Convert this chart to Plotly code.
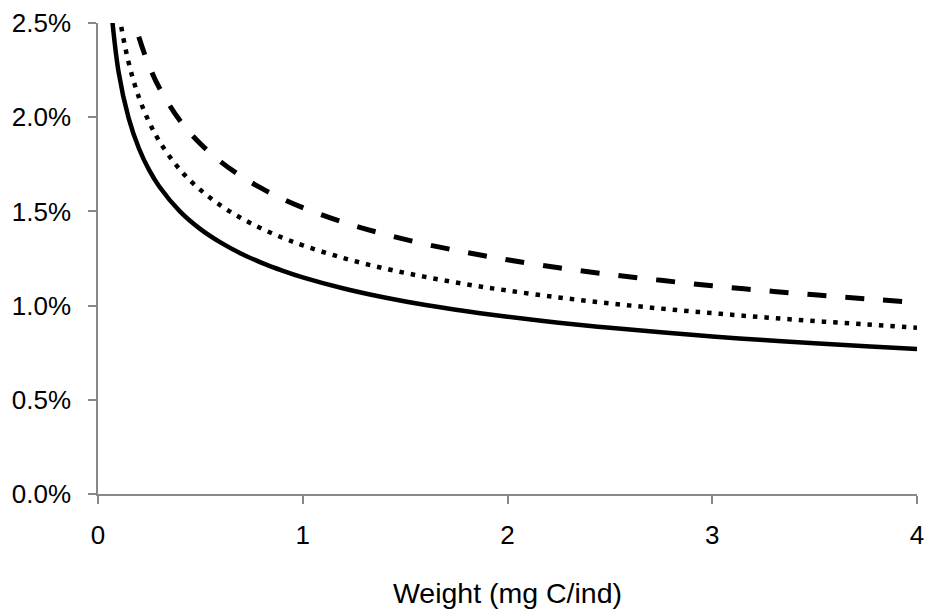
import plotly.graph_objects as go

weight = [0.05, 0.1, 0.15, 0.2, 0.25, 0.3, 0.4, 0.5, 0.6, 0.7, 0.8, 0.9, 1.0,
          1.2, 1.4, 1.6, 1.8, 2.0, 2.25, 2.5, 2.75, 3.0, 3.25, 3.5, 3.75, 4.0]

solid = [2.742, 2.243, 1.994, 1.834, 1.719, 1.631, 1.500, 1.406, 1.334, 1.275, 1.227, 1.186, 1.150,
         1.091, 1.043, 1.003, 0.970, 0.941, 0.909, 0.882, 0.858, 0.836, 0.817, 0.800, 0.784, 0.769]

dotted = [3.147, 2.574, 2.289, 2.105, 1.973, 1.872, 1.721, 1.614, 1.531, 1.464, 1.408, 1.361, 1.320,
          1.252, 1.197, 1.152, 1.113, 1.080, 1.043, 1.012, 0.984, 0.960, 0.938, 0.918, 0.900, 0.883]

dashed = [3.624, 2.964, 2.636, 2.424, 2.272, 2.155, 1.982, 1.859, 1.763, 1.686, 1.622, 1.567, 1.520,
          1.442, 1.379, 1.326, 1.282, 1.243, 1.201, 1.165, 1.134, 1.105, 1.080, 1.057, 1.036, 1.017]

x_ticks = [0, 1, 2, 3, 4]
y_ticks = [0.0, 0.5, 1.0, 1.5, 2.0, 2.5]
y_labels = ["0.0%", "0.5%", "1.0%", "1.5%", "2.0%", "2.5%"]

fig = go.Figure()
fig.add_trace(go.Scatter(x=weight, y=solid, mode="lines", line=dict(color="black", width=4.5), line_shape="spline"))
fig.add_trace(go.Scatter(x=weight, y=dotted, mode="lines", line=dict(color="black", width=4.5, dash="4.5px,7px"), line_shape="spline"))
fig.add_trace(go.Scatter(x=weight, y=dashed, mode="lines", line=dict(color="black", width=5, dash="19px,19px"), line_shape="spline"))

axis_color = "#888888"
font_family = "Liberation Sans, Arial, sans-serif"

fig.update_layout(
    width=927, height=616,
    margin=dict(l=98, r=10, t=23, b=122, autoexpand=False),
    paper_bgcolor="white", plot_bgcolor="white",
    showlegend=False,
    font=dict(family=font_family, size=26, color="black"),
    xaxis=dict(
        range=[0, 4], tickvals=x_ticks, ticktext=[str(v) for v in x_ticks],
        automargin=False,
        showgrid=False, zeroline=False, showline=True, linecolor=axis_color, linewidth=1.5,
        ticks="outside", ticklen=8, tickwidth=1.5, tickcolor=axis_color,
        ticklabelstandoff=9,
        title=dict(text="Weight (mg C/ind)", standoff=34, font=dict(size=28.5)),
    ),
    yaxis=dict(
        range=[0, 2.5], tickvals=y_ticks, ticktext=y_labels,
        automargin=False,
        showgrid=False, zeroline=False, showline=True, linecolor=axis_color, linewidth=1.5,
        ticks="outside", ticklen=8, tickwidth=1.5, tickcolor=axis_color,
        ticklabelstandoff=12,
    ),
)

fig.write_html("out.html")
